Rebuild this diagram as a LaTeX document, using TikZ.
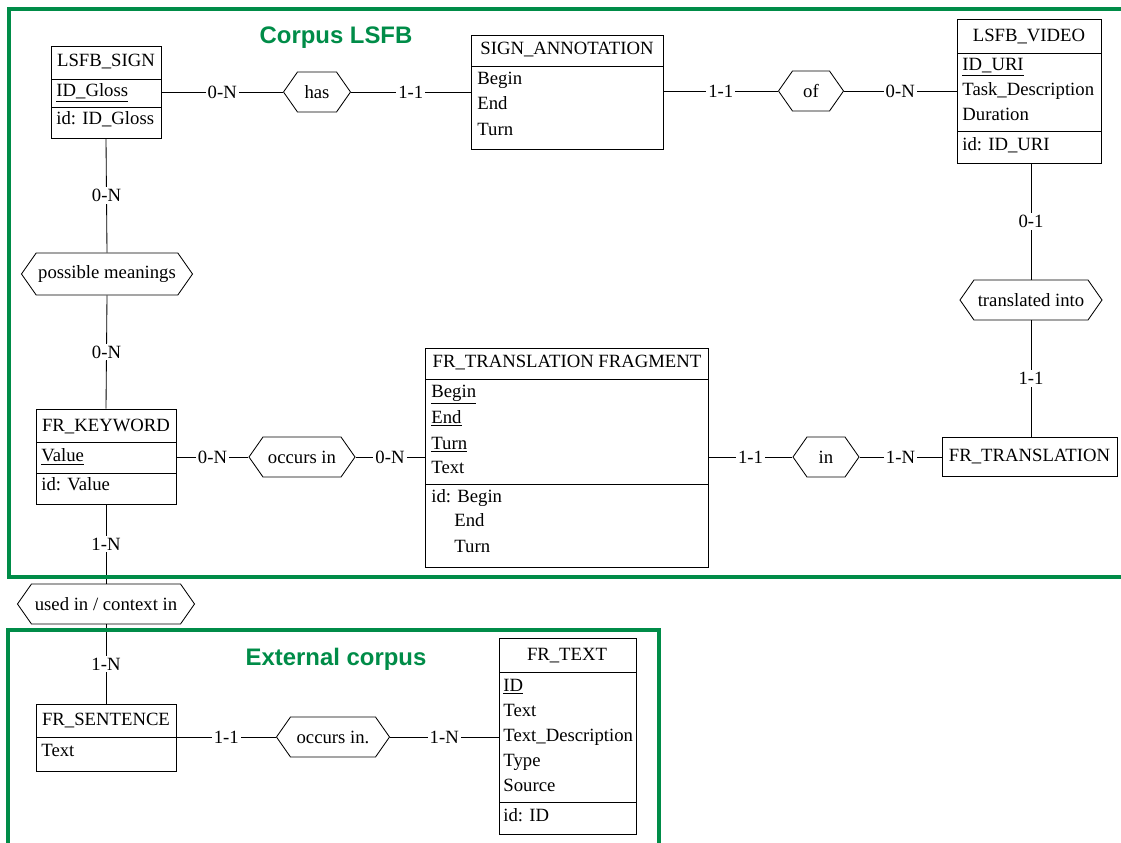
\documentclass[tikz,border=0pt]{standalone}
\usepackage{fontspec}
\setmainfont{Liberation Serif}
\newfontfamily\headfont{Liberation Sans}
\usetikzlibrary{fit,shapes.symbols}
\definecolor{corpusgreen}{RGB}{0,140,72}

\begin{document}
\begin{tikzpicture}[x=0.025cm,y=-0.025cm,
  font=\fontsize{13.3}{15}\selectfont,
  ent/.style={draw,line width=0.7pt,inner sep=0pt},
  rel/.style={draw,line width=0.6pt,signal,signal to=east and west,
    signal pointer angle=110,minimum height=1cm,inner xsep=1pt,fill=white},
  card/.style={fill=white,inner sep=1.5pt},
  att/.style={anchor=west,inner sep=0pt,text height=9pt,text depth=2.5pt},
  head/.style={text=corpusgreen,font=\headfont\bfseries\fontsize{17}{20}\selectfont},
  frame/.style={draw=corpusgreen,line width=2.2pt},
  every path/.style={line width=0.6pt}]
\useasboundingbox (0,0) rectangle (1121,843);

% titres des deux corpus
\node[head] (lsfbhead) at (336,38) {Corpus LSFB};
\node[head] (exthead) at (336,659) {External corpus};

% entites
\node[ent,fit={(51,46) (161,138)}] (sign) {};
\draw (51,79) -- (161,79) (51,107) -- (161,107);
\node (signname) at (106,62) {LSFB\_SIGN};
\node[att] at (56,92) {\underline{ID\_Gloss}};
\node[att] at (56,120) {id: ID\_Gloss};

\node[ent,fit={(471,35) (663,149)}] (annot) {};
\draw (471,66) -- (663,66);
\node (annotname) at (567,50) {SIGN\_ANNOTATION};
\node[att] at (477,80) {Begin};
\node[att] at (477,105) {End};
\node[att] at (477,131) {Turn};

\node[ent,fit={(957,19) (1101,163)}] (video) {};
\draw (957,53) -- (1101,53) (957,131) -- (1101,131);
\node (videoname) at (1029,37) {LSFB\_VIDEO};
\node[att] at (962,66) {\underline{ID\_URI}};
\node[att] at (962,91) {Task\_Description};
\node[att] at (962,116) {Duration};
\node[att] at (962,146) {id: ID\_URI};

\node[ent,fit={(942,437) (1117,476)}] (trans) {};
\node (transname) at (trans) {FR\_TRANSLATION};

\node[ent,fit={(425,348) (708,567)}] (frag) {};
\draw (425,379) -- (708,379) (425,484) -- (708,484);
\node (fragname) at (567,363) {FR\_TRANSLATION FRAGMENT};
\node[att] at (431,393) {\underline{Begin}};
\node[att] at (431,419) {\underline{End}};
\node[att] at (431,445) {\underline{Turn}};
\node[att] at (431,469) {Text};
\node[att] at (431,498) {id: Begin};
\node[att] at (454,522) {End};
\node[att] at (454,548) {Turn};

\node[ent,fit={(36,409) (176,504)}] (keyword) {};
\draw (36,442) -- (176,442) (36,473) -- (176,473);
\node (keywordname) at (106,427) {FR\_KEYWORD};
\node[att] at (41,457) {\underline{Value}};
\node[att] at (41,486) {id: Value};

\node[ent,fit={(36,704) (176,771)}] (sentence) {};
\draw (36,737) -- (176,737);
\node (sentencename) at (106,721) {FR\_SENTENCE};
\node[att] at (41,752) {Text};

\node[ent,fit={(499,638) (636,834)}] (text) {};
\draw (499,672) -- (636,672) (499,802) -- (636,802);
\node (textname) at (567,656) {FR\_TEXT};
\node[att] at (503,687) {\underline{ID}};
\node[att] at (503,712) {Text};
\node[att] at (503,737) {Text\_Description};
\node[att] at (503,762) {Type};
\node[att] at (503,787) {Source};
\node[att] at (503,817) {id: ID};

% associations
\node[rel,minimum width=1.675cm] (has) at (317,92) {has};
\node[rel,minimum width=1.625cm] (of) at (811,91) {of};
\node[rel,minimum width=3.55cm] (translated) at (1031,300) {translated into};
\node[rel,minimum width=1.65cm] (in) at (826,457) {in};
\node[rel,minimum width=2.65cm] (occurs) at (302,457) {occurs in};
\node[rel,minimum width=4.275cm,minimum height=1.05cm] (meanings) at (107,274) {possible meanings};
\node[rel,minimum width=4.425cm] (usedin) at (106,604) {used in / context in};
\node[rel,minimum width=2.825cm] (occursin) at (333,737) {occurs in.};

% liens avec cardinalites
\draw (sign.east |- has) -- node[card]{0-N} (has.west);
\draw (has.east) -- node[card]{1-1} (annot.west |- has);
\draw (annot.east |- of) -- node[card]{1-1} (of.west);
\draw (of.east) -- node[card]{0-N} (video.west |- of);
\draw (translated.north |- video.south) -- node[card]{0-1} (translated.north);
\draw (translated.south) -- node[card]{1-1} (translated.south |- trans.north);
\draw (frag.east |- in) -- node[card]{1-1} (in.west);
\draw (in.east) -- node[card]{1-N} (trans.west |- in);
\draw (keyword.east |- occurs) -- node[card]{0-N} (occurs.west);
\draw (occurs.east) -- node[card]{0-N} (frag.west |- occurs);
\draw (sign.south) -- node[card]{0-N} (meanings.north);
\draw (meanings.south) -- node[card]{0-N} (keyword.north);
\draw (keyword.south) -- node[card]{1-N} (usedin.north);
\draw (usedin.south) -- node[card]{1-N} (sentence.north);
\draw (sentence.east |- occursin) -- node[card]{1-1} (occursin.west);
\draw (occursin.east) -- node[card]{1-N} (text.west |- occursin);

% cadres
\draw[frame] (9,9) rectangle (1135,577);
\draw[frame] (8,630) rectangle (659,860);
\end{tikzpicture}
\end{document}
